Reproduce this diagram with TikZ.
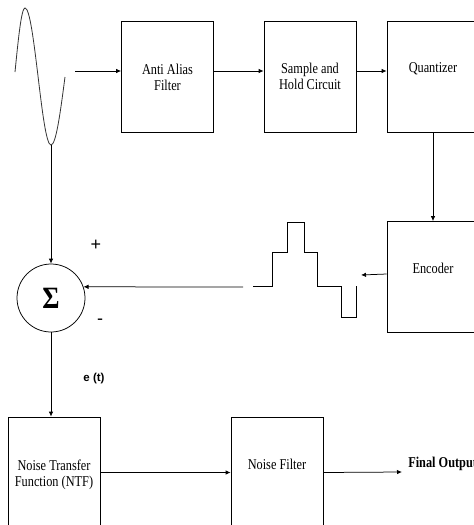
\documentclass[tikz,border=0pt]{standalone}
\usepackage{fontspec}
\setmainfont{Liberation Serif}
\newfontfamily\sansfont{Liberation Sans}
\usetikzlibrary{arrows.meta, positioning}

\begin{document}
\begin{tikzpicture}[x=1pt, y=1pt, >={Latex[length=5pt, width=4.5pt]}, line width=0.75pt]

        % Setup the styles for the blocks and their texts
        \tikzset{block/.style={draw,
                               minimum width=92pt,
                               minimum height=111pt,
                               inner sep=0pt},
                 block text/.style={font=\fontsize{15}{16}\selectfont,
                                    align=center,
                                    inner sep=0pt,
                                    xscale=0.82},
                 sum node/.style={circle,
                                  draw,
                                  minimum size=68pt,
                                  inner sep=0pt}}

        % Fix the frame
        \useasboundingbox (0, 0) rectangle (474, -525);
        \clip (0, 0) rectangle (474, -525);

        % Input signal
        \draw[gray!40!black, line width=0.8pt]
            (15, -72) sin (25, -8) cos (38, -76) sin (51, -145) coordinate (trough) cos (65, -77);
        \coordinate (in) at (75, -71);

        % Draw the blocks
        \node[block] at (167.5, -76.5)  (aaf)    {};
        \node[block] at (310, -76.5)    (sh)     {};
        \node[block] at (433, -76.5)    (quant)  {};
        \node[block] at (433, -277)     (enc)    {};
        \node[block] at (54, -472.5)    (ntf)    {};
        \node[block] at (277, -472.5)   (nf)     {};
        \node[sum node] at (51, -298)   (sigma)  {\bfseries\fontsize{31}{31}\selectfont\scalebox{0.85}[1]{Σ}};

        % Texts of the blocks
        \node[block text, below=43pt of aaf.north]    (aaf text)    {Anti Alias\\Filter};
        \node[block text, below=42pt of sh.north]     (sh text)     {Sample and\\Hold Circuit};
        \node[block text, below=42pt of quant.north]  (quant text)  {Quantizer};
        \node[block text, below=42pt of enc.north]    (enc text)    {Encoder};
        \node[block text, below=43pt of ntf.north]    (ntf text)    {Noise Transfer\\Function (NTF)};
        \node[block text, below=42pt of nf.north]     (nf text)     {Noise Filter};
        \node[block text, anchor=west, font=\bfseries\fontsize{15}{16}\selectfont] at (408, -464) (fout) {Final Output};

        % Signs and error label
        \node[font=\sansfont\fontsize{18}{18}\selectfont] at (96, -245)  (plus)  {+};
        \node[font=\sansfont\fontsize{18}{18}\selectfont] at (100, -322) (minus) {-};
        \node[font=\sansfont\bfseries\fontsize{11.5}{11.5}\selectfont] at (94, -379) (err) {e (t)};

        % Quantized signal
        \draw (253, -286) -- (272, -286) -- (272, -252) -- (287, -252) -- (287, -222)
              -- (304, -222) -- (304, -252) -- (317, -252) -- (317, -286) -- (341, -286)
              -- (341, -317) -- (356, -317) -- (356, -286);
        \coordinate (stair) at (361, -275);
        \coordinate (fb) at (243, -287);
        \coordinate (out) at (402, -472);

        % Connect the blocks with arrows
        \draw[->] (in) -- ([yshift=5.5pt]aaf.west);
        \draw[->] ([yshift=5.5pt]aaf.east) -- ([yshift=5.5pt]sh.west);
        \draw[->] ([yshift=5.5pt]sh.east) -- ([yshift=5.5pt]quant.west);
        \draw[->] (quant.south) -- (enc.north);
        \draw[->] ([yshift=3pt]enc.west) -- (stair);
        \draw[->] (fb) -- (sigma.19);
        \draw[->] (trough) -- (sigma.north);
        \draw[->] (sigma.south) -- (sigma.south |- ntf.north);
        \draw[->] (ntf.east) -- (nf.west);
        \draw[->] (nf.east) -- (out);
\end{tikzpicture}
\end{document}
